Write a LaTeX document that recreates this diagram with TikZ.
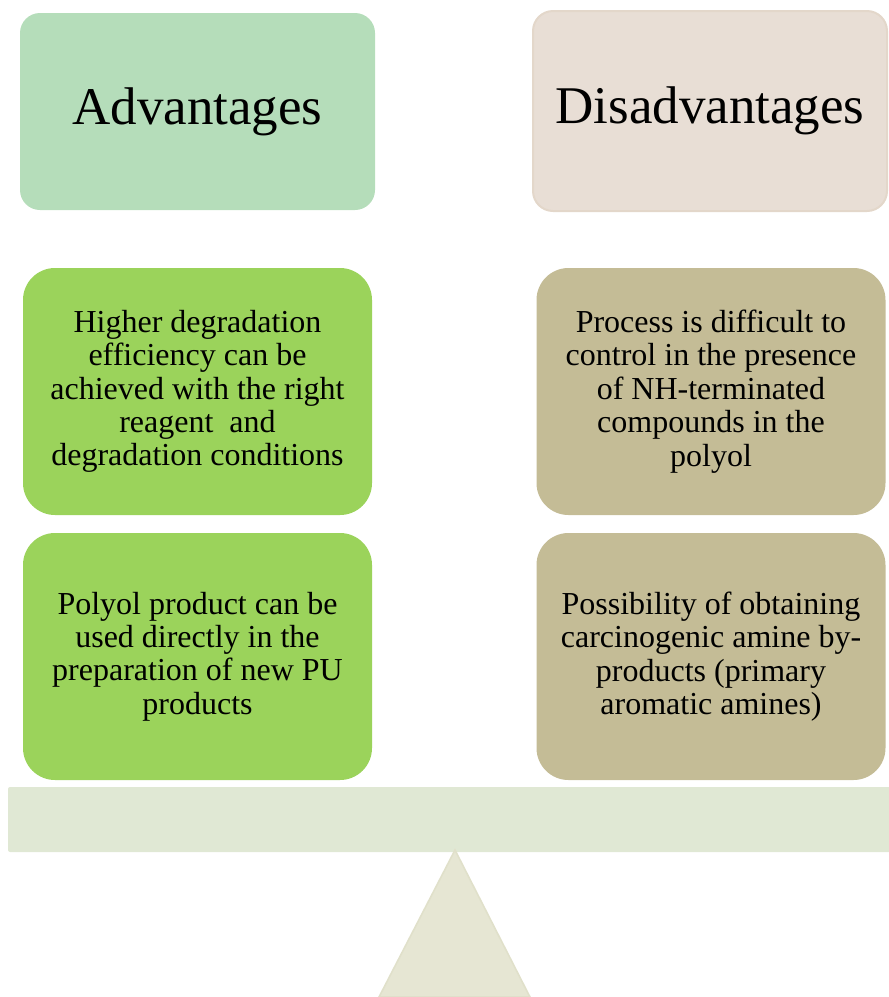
\documentclass[tikz,border=0pt]{standalone}
\usepackage{fontspec}
\setmainfont{Liberation Serif}
\usepackage{xcolor}

\definecolor{advgreen}{HTML}{B5DDBA}
\definecolor{disbeige}{HTML}{E8DED5}
\definecolor{disedge}{HTML}{E3D7CA}
\definecolor{progreen}{HTML}{9BD35B}
\definecolor{contan}{HTML}{C4BC96}
\definecolor{beamcol}{HTML}{E0E8D4}
\definecolor{pivotcol}{HTML}{E6E6D3}
\definecolor{pivotedge}{HTML}{E0E0CA}

\begin{document}
\begin{tikzpicture}[x=0.5pt, y=-0.5pt,
  title/.style={rectangle, rounded corners=10pt, inner sep=0pt, align=center,
    font=\fontsize{26.5}{30}\selectfont},
  point/.style={rectangle, rounded corners=16pt, inner sep=0pt, align=center,
    minimum width=174.5pt, minimum height=123.5pt,
    font=\fontsize{16}{16.7}\selectfont}]
  \useasboundingbox (0,0) rectangle (889,997);
  % headings
  \node[title, fill=advgreen, minimum width=177.5pt, minimum height=98.5pt] (adv) at (197.5,111.5) {Advantages};
  \node[title, fill=disbeige, draw=disedge, line width=1pt, minimum width=177pt, minimum height=100pt] (disadv) at (710,111) {Disadvantages};
  % advantages
  \node[point, fill=progreen] (pro1) at (197.5,391.5)
    {\vspace*{3pt}Higher degradation\\efficiency can be\\achieved with the right\\reagent~ and\\degradation conditions};
  \node[point, fill=progreen] (pro2) at (197.5,656.5)
    {\vspace*{3pt}Polyol product can be\\used directly in the\\preparation of new PU\\products};
  % disadvantages
  \node[point, fill=contan] (con1) at (711,391.5)
    {\vspace*{3pt}Process is difficult to\\control in the presence\\of NH-terminated\\compounds in the\\polyol};
  \node[point, fill=contan] (con2) at (711,656.5)
    {\vspace*{3pt}Possibility of obtaining\\carcinogenic amine by-\\products (primary\\aromatic amines)};
  % balance beam and pivot
  \fill[beamcol, rounded corners=1pt] (8,787) rectangle (895,852);
  \filldraw[fill=pivotcol, draw=pivotedge, line width=0.8pt] (455,850) -- (530,997) -- (379,997) -- cycle;
\end{tikzpicture}
\end{document}
